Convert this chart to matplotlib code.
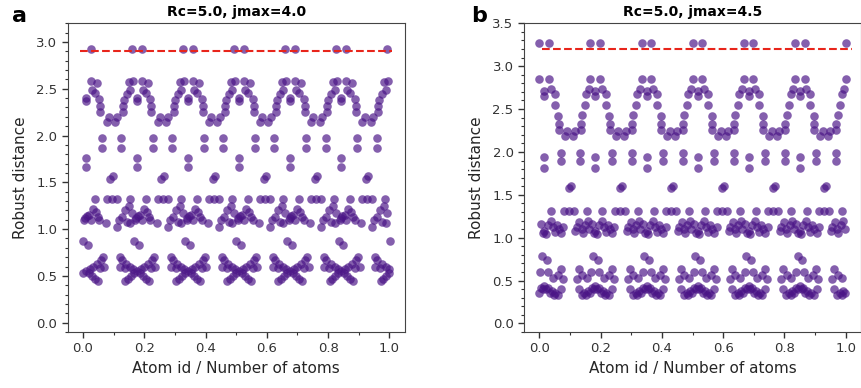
import numpy as np
import matplotlib
matplotlib.use("Agg")
import matplotlib.pyplot as plt
from matplotlib.ticker import MultipleLocator

# one repeating unit of the chain:
# offset of each atom from the unit centre (atom id / N) and its robust distance
a_offsets = [-0.016, 0.016,
             -0.071, -0.064, -0.047, -0.046, -0.042, -0.032, -0.027, -0.022, -0.013,
             0.0, 0.0, 0.016, 0.020, 0.030, 0.036, 0.044, 0.047, 0.047, 0.069, 0.076,
             -0.051, -0.051, 0.052, 0.052, 0.0, 0.0,
             0.080, 0.087,
             -0.066, -0.024, 0.028, 0.069, 0.085,
             -0.065, -0.060, -0.049, -0.040, -0.033, -0.027, -0.022, -0.016, -0.005, -0.002,
             0.003, 0.011, 0.016, 0.022, 0.033, 0.038, 0.044, 0.065,
             -0.009, 0.007,
             -0.055, -0.049, -0.055, -0.040, -0.035, -0.022, -0.012, 0.0, -0.010, 0.010,
             -0.020, -0.030, -0.038, 0.020, 0.030, 0.038, 0.012, 0.022, 0.035, 0.049,
             0.055, 0.045, 0.060]
a_values = [2.92, 2.92,
            2.15, 2.20, 2.255, 2.32, 2.38, 2.44, 2.57, 2.49, 2.585,
            2.40, 2.37, 2.585, 2.49, 2.46, 2.565, 2.39, 2.32, 2.255, 2.15, 2.20,
            1.97, 1.87, 1.97, 1.87, 1.76, 1.66,
            1.54, 1.565,
            1.327, 1.327, 1.327, 1.327, 1.327,
            1.02, 1.095, 1.13, 1.20, 1.08, 1.245, 1.06, 1.167, 1.095, 1.12,
            1.14, 1.15, 1.095, 1.22, 1.18, 1.13, 1.095, 1.06,
            0.875, 0.835,
            0.70, 0.665, 0.60, 0.585, 0.625, 0.60, 0.575, 0.55, 0.53, 0.53,
            0.50, 0.47, 0.445, 0.50, 0.47, 0.445, 0.575, 0.60, 0.625, 0.665,
            0.70, 0.585, 0.60]
a_centres = [0.0095, 0.176, 0.343, 0.5095, 0.676, 0.843, 1.0095]
a_cutoff = 2.9

b_offsets = [-0.016, 0.016,
             -0.074, -0.067, -0.048, -0.047, -0.043, -0.034, -0.030, -0.021, -0.016,
             0.0, 0.0, 0.016, 0.021, 0.035, 0.035, 0.046, 0.048, 0.048, 0.067, 0.075,
             -0.049, -0.049, 0.053, 0.053, 0.0, 0.0,
             0.080, 0.087,
             -0.070, -0.027, 0.023, 0.064, 0.080,
             -0.065, -0.060, -0.052, -0.045, -0.040, -0.033, -0.025, -0.020, -0.012, -0.005,
             0.0, 0.005, 0.012, 0.020, 0.028, 0.035, 0.040, 0.048, 0.055, 0.062,
             -0.007, 0.007,
             -0.054, -0.043, -0.027, -0.013, -0.060, 0.054, 0.043, 0.027, 0.013, 0.060,
             0.0, -0.012, -0.024, -0.036, -0.045, 0.012, 0.024, 0.036, 0.045,
             -0.055, 0.055, -0.006, 0.006, -0.018, 0.018, -0.030, 0.030]
b_values = [3.27, 3.27,
            2.18, 2.24, 2.26, 2.33, 2.43, 2.55, 2.67, 2.735, 2.845,
            2.71, 2.65, 2.845, 2.735, 2.67, 2.55, 2.415, 2.325, 2.26, 2.18, 2.24,
            1.985, 1.89, 1.985, 1.89, 1.935, 1.81,
            1.575, 1.60,
            1.31, 1.31, 1.31, 1.31, 1.31,
            1.08, 1.13, 1.18, 1.10, 1.05, 1.15, 1.20, 1.10, 1.16, 1.06,
            1.08, 1.04, 1.15, 1.20, 1.12, 1.07, 1.15, 1.10, 1.05, 1.12,
            0.79, 0.745,
            0.64, 0.56, 0.53, 0.60, 0.52, 0.64, 0.56, 0.53, 0.60, 0.52,
            0.44, 0.41, 0.38, 0.35, 0.33, 0.41, 0.38, 0.35, 0.33,
            0.40, 0.40, 0.40, 0.40, 0.36, 0.36, 0.33, 0.33]
b_centres = [0.0165, 0.183, 0.35, 0.5165, 0.683, 0.85, 1.0165]
b_cutoff = 3.2

dot_colour = '#4a1486'
cut_colour = '#e8251b'


def chain(centres, offsets, values):
    x = np.add.outer(centres, offsets).ravel()
    y = np.tile(values, len(centres))
    keep = (x >= -0.002) & (x <= 1.002)
    return x[keep], y[keep]


fig = plt.figure(figsize=(8.61, 3.88), dpi=100)
ax1 = fig.add_axes([67.7 / 861, 56 / 388, 337 / 861, 308.7 / 388])
ax2 = fig.add_axes([524 / 861, 56 / 388, 337 / 861, 308.7 / 388])

panels = [
    (ax1, a_centres, a_offsets, a_values, a_cutoff, (-0.01, 1.01), (-0.1, 3.2), 'Rc=5.0, jmax=4.0', 'a', 12),
    (ax2, b_centres, b_offsets, b_values, b_cutoff, (0.01, 1.02), (-0.1, 3.5), 'Rc=5.0, jmax=4.5', 'b', 471),
]

for ax, centres, offs, vals, cut, span, ylim, title, letter, lx in panels:
    x, y = chain(centres, offs, vals)
    ax.scatter(x, y, s=38, c=dot_colour, alpha=0.68, linewidths=0, zorder=2)
    ax.hlines(cut, span[0], span[1], colors=cut_colour, linestyles='--', linewidth=1.5, zorder=3)

    ax.set_xlim(-0.05, 1.05)
    ax.set_ylim(*ylim)
    ax.xaxis.set_major_locator(MultipleLocator(0.2))
    ax.xaxis.set_minor_locator(MultipleLocator(0.1))
    ax.yaxis.set_major_locator(MultipleLocator(0.5))
    ax.yaxis.set_minor_locator(MultipleLocator(0.1))
    ax.tick_params(which='major', length=4, width=1, colors='#333333', labelsize=9.5)
    ax.tick_params(which='minor', length=2.5, width=0.8, colors='#333333')
    for sp in ax.spines.values():
        sp.set_color('#444444')

    ax.set_xlabel('Atom id / Number of atoms', fontsize=11, color='#262626')
    ax.set_ylabel('Robust distance', fontsize=11, color='#262626', labelpad=6)
    ax.set_title(title, fontsize=10, fontweight='bold', pad=5)
    fig.text(lx / 861, 1 - 22 / 388, letter, fontsize=16, fontweight='bold', va='baseline')

fig.savefig('out.png', dpi=100)
